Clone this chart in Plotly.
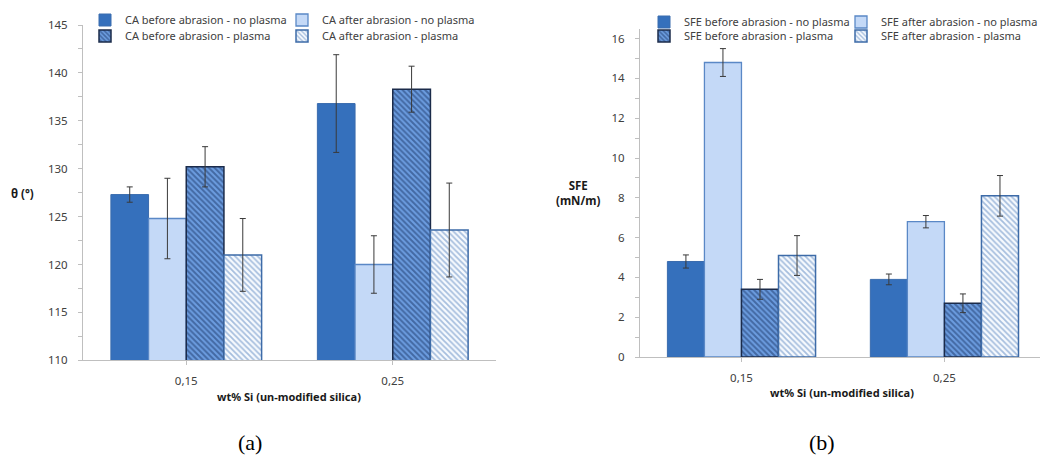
import plotly.graph_objects as go

categories = ["0,15", "0,25"]

ca_names = ["CA before abrasion - no plasma", "CA after abrasion - no plasma",
            "CA before abrasion - plasma", "CA after abrasion - plasma"]
ca_values = [[127.3, 136.8], [124.8, 120.0], [130.2, 138.3], [121.0, 123.6]]
ca_errors = [[0.8, 5.1], [4.2, 3.0], [2.1, 2.4], [3.8, 4.9]]

sfe_names = ["SFE before abrasion - no plasma", "SFE after abrasion - no plasma",
             "SFE before abrasion - plasma", "SFE after abrasion - plasma"]
sfe_values = [[4.8, 3.9], [14.8, 6.8], [3.4, 2.7], [5.1, 8.1]]
sfe_errors = [[0.33, 0.27], [0.7, 0.31], [0.5, 0.47], [1.0, 1.02]]

W, H = 1040, 459
FONT = "Noto Sans"

styles = [
    dict(color="#3570BC", line=dict(color="#3A6CAE", width=1)),
    dict(color="#C4D9F7", line=dict(color="#5A88C6", width=1.3)),
    dict(color="#5A8ED6", line=dict(color="#1B2B4A", width=1.5),
         pattern=dict(shape="\\", bgcolor="#6C9DE0", fgcolor="#1A3566", size=4, solidity=0.5)),
    dict(color="white", line=dict(color="#3D6BA8", width=1.5),
         pattern=dict(shape="\\", bgcolor="#F7FAFE", fgcolor="#5582BE", size=4, solidity=0.45)),
]

fig = go.Figure()

for i in range(4):
    fig.add_trace(go.Bar(
        x=[0, 1], y=ca_values[i], name=ca_names[i], marker=styles[i],
        error_y=dict(type="data", array=ca_errors[i], color="#3A3A3A", thickness=1, width=3),
        xaxis="x", yaxis="y", legend="legend" if i == 0 else f"legend{i+1}", offsetgroup=str(i),
    ))
for i in range(4):
    fig.add_trace(go.Bar(
        x=[0, 1], y=sfe_values[i], name=sfe_names[i], marker=styles[i],
        error_y=dict(type="data", array=sfe_errors[i], color="#3A3A3A", thickness=1, width=3),
        xaxis="x2", yaxis="y2", legend=f"legend{i+5}", offsetgroup=str(i),
    ))

def px_x(p):
    return p / W

def px_y(p):
    return 1 - p / H

axis_common = dict(showgrid=False, zeroline=False, showline=True, linecolor="#BFBFBF",
                   linewidth=1, automargin=False,
                   tickfont=dict(family=FONT, size=11.5, color="#404040"))

xaxis_common = dict(axis_common, tickmode="array", tickvals=[0, 1], ticktext=categories,
                    tickson="boundaries", ticks="outside", ticklen=4, tickcolor="#BFBFBF",
                    ticklabelstandoff=6)

fig.update_layout(
    width=W, height=H, margin=dict(l=0, r=0, t=0, b=0, autoexpand=False),
    paper_bgcolor="white", plot_bgcolor="white",
    barmode="group", bargap=0.27, bargroupgap=0,
    xaxis=dict(xaxis_common, domain=[px_x(83), px_x(496)], range=[-0.5, 1.5], anchor="y"),
    yaxis=dict(axis_common, domain=[px_y(360.3), px_y(25)], range=[110, 145], dtick=5,
               ticks="outside", ticklen=4, tickcolor="#BFBFBF", anchor="x",
               ticklabelstandoff=8,
               minor=dict(ticks="outside", ticklen=4, dtick=2.5, tickcolor="#BFBFBF")),
    xaxis2=dict(xaxis_common, domain=[px_x(640), 1.0], range=[-0.5, 1.471], anchor="y2"),
    yaxis2=dict(axis_common, domain=[px_y(357), px_y(28.7)], range=[0, 16.5], dtick=2,
                ticks="outside", ticklen=4, tickcolor="#BFBFBF", anchor="x2",
                ticklabelstandoff=8,
                minor=dict(ticks="outside", ticklen=4, dtick=1, tickcolor="#BFBFBF")),
    showlegend=True,
)

leg_common = dict(orientation="h",
                  font=dict(family=FONT, size=11, color="#404040"),
                  bgcolor="rgba(0,0,0,0)", xanchor="left", yanchor="middle",
                  itemwidth=30, tracegroupgap=0)
leg_pos = [(85, 20), (282, 20), (85, 36), (282, 36),
           (644, 22), (841, 22), (644, 36), (841, 36)]
for k, (lx, ly) in enumerate(leg_pos):
    key = "legend" if k == 0 else f"legend{k+1}"
    fig.update_layout({key: dict(leg_common, x=px_x(lx), y=px_y(ly))})

def label(text, x, y, size, family=FONT, color="#1A1A1A"):
    return dict(text=text, x=px_x(x), y=px_y(y), xref="paper", yref="paper",
                xanchor="center", yanchor="middle", showarrow=False,
                font=dict(family=family, size=size, color=color))

ann = [
    label("<b>θ (°)</b>", 22, 193, 11.5),
    label("<b>SFE</b><br><b>(mN/m)</b>", 578, 193, 11.5),
    label("<b>wt% Si (un-modified silica)</b>", 289, 396, 11),
    label("<b>wt% Si (un-modified silica)</b>", 842, 392, 11),
    label("(a)", 250, 442, 22, family="Liberation Serif", color="#000000"),
    label("(b)", 822, 442, 22, family="Liberation Serif", color="#000000"),
]
fig.update_layout(annotations=ann)

fig.write_html("out.html")
